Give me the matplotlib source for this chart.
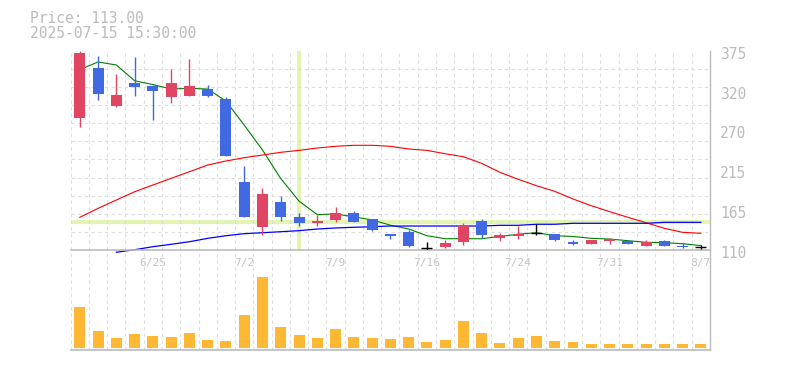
import matplotlib
matplotlib.use("Agg")
import matplotlib.pyplot as plt
import matplotlib.transforms as mtransforms
import numpy as np

plt.rcParams['font.family'] = ['DejaVu Sans Mono']

# trading days 6/19 .. 8/7 (7/21 holiday)
dates = ['6/19', '6/20', '6/23', '6/24', '6/25', '6/26', '6/27', '6/30', '7/1', '7/2',
         '7/3', '7/4', '7/7', '7/8', '7/9', '7/10', '7/11', '7/14', '7/15', '7/16',
         '7/17', '7/18', '7/22', '7/23', '7/24', '7/25', '7/28', '7/29', '7/30', '7/31',
         '8/1', '8/4', '8/5', '8/6', '8/7']

opens = [286, 352, 301, 332, 328, 314, 315, 324, 311, 200, 140, 174, 154, 146, 150, 159, 151, 131,
         134, 113, 114, 120, 149, 126, 129, 133, 131, 120, 118, 122, 122, 115, 122, 115, 114]
highs = [375, 368, 344, 367, 330, 351, 364, 329, 313, 222, 192, 182, 159, 157, 167, 162, 151, 131,
         136, 121, 123, 146, 151, 133, 142, 145, 131, 123, 123, 126, 123, 123, 123, 119, 117]
lows = [274, 309, 300, 315, 283, 306, 315, 314, 235, 154, 130, 149, 142, 142, 147, 147, 135, 125,
        114, 109, 113, 116, 126, 122, 125, 130, 122, 117, 118, 118, 118, 115, 115, 113, 111]
closes = [372, 317, 316, 327, 321, 332, 328, 315, 235, 154, 185, 154, 146, 149, 159, 147, 137, 128,
          115, 113, 119, 143, 130, 130, 131, 133, 123, 118, 123, 124, 118, 120, 115, 114, 114]

# volume, thousand shares
volume = [410, 170, 100, 140, 120, 110, 150, 80, 70, 330, 710, 210, 130, 100, 190, 110, 100, 90,
          110, 60, 80, 270, 150, 50, 100, 120, 70, 60, 40, 40, 40, 40, 40, 40, 40]

ma_short = [350, 360, 356, 335, 330, 324, 325, 324, 308, 276, 243, 205, 175, 157, 158, 154, 150, 143,
            138, 129, 125, 125, 125, 128, 131, 133, 129, 128, 125.5, 124.6, 122.4, 120.2, 119.8, 118.4, 115.8]
ma_mid = [153.5, 165.4, 176.5, 187.5, 196.4, 205.3, 214.1, 223, 228.3, 232.8, 236.3, 239.9, 242.5,
          245.6, 247.9, 249.2, 249.2, 247.9, 244.3, 242.5, 238, 234, 225.2, 213.3, 204, 195.5, 188,
          177.8, 168.9, 161, 153.5, 146.3, 138.8, 133.5, 132.2]
ma_long = [np.nan, np.nan, 107, 110.4, 114.4, 117.6, 121, 125.5, 129, 131.7, 133, 134.3, 135.7, 137.9,
           139.3, 140.2, 141, 141.9, 141.9, 141.9, 141.9, 141.9, 141.9, 142.8, 142.8, 144.2, 144.2,
           145.5, 145.5, 145.5, 145.5, 145.5, 146.8, 146.8, 146.8]

y_labels = ['110', '165', '215', '270', '320', '375']
cross_idx = 12
cross_price = 147.5
info_price = 'Price: 113.00'
info_time = '2025-07-15 15:30:00'

UP = '#e04563'
DOWN = '#4169e1'
GRID = '#dddddd'
AXC = '#bbbbbb'
TXT = '#bbbbbb'

W, H = 785, 370
def box(x0, y0, x1, y1):
    return [x0 / W, 1 - y1 / H, (x1 - x0) / W, (y1 - y0) / H]

fig = plt.figure(figsize=(W / 100, H / 100), dpi=100)
ax = fig.add_axes(box(70.7, 50.7, 710, 250))
axv = fig.add_axes(box(70.7, 250, 710, 350), sharex=ax)
axv.patch.set_visible(False)

x = np.arange(len(dates))
o = np.array(opens, float)
c = np.array(closes, float)
hi = np.array(highs, float)
lo = np.array(lows, float)
up = c > o
dn = c < o
dj = c == o

ax.set_xlim(-0.5, len(dates) - 0.5)
ax.set_ylim(110, 375)

# grid
ax.set_xticks(np.arange(-0.5, len(dates), 1), minor=True)
ax.set_yticks(np.linspace(110, 375, 12), minor=True)
ax.grid(which='minor', color=GRID, ls=(0, (3, 3)), lw=0.8)
ax.grid(which='major', visible=False)
axv.grid(which='minor', axis='x', color=GRID, ls=(0, (3, 3)), lw=0.8)

# crosshair
ax.axvline(cross_idx, ymin=0.01, ymax=1, color='#e4f4b2', lw=3, zorder=1.5)
ax.axhline(cross_price, color='#e4f4b2', lw=3, zorder=1.5)

# moving averages
ax.plot(x, ma_short, color='#008000', lw=0.8, zorder=2)
ax.plot(x, ma_mid, color='#ff0000', lw=0.8, zorder=2)
ax.plot(x, ma_long, color='#0000ff', lw=0.9, zorder=2, clip_on=False)

# candles
wick_col = np.where(up, UP, np.where(dn, DOWN, 'black'))
ax.vlines(x, lo, hi, colors=wick_col, lw=1.0, zorder=3)
ax.bar(x[up], (c - o)[up], bottom=o[up], width=0.6, color=UP, zorder=4)
ax.bar(x[dn], (o - c)[dn], bottom=c[dn], width=0.6, color=DOWN, zorder=4)
ax.hlines(c[dj], x[dj] - 0.3, x[dj] + 0.3, colors='black', lw=1.0, zorder=4)

# axes styling
ax.yaxis.tick_right()
ax.set_yticks(np.linspace(110, 375, 6), y_labels)
ax.set_xticks(x[4::5], [dates[i] for i in x[4::5]])
ax.tick_params(which='both', length=0)
ax.tick_params(axis='y', pad=7, labelsize=10.5, labelcolor=TXT)
ax.tick_params(axis='x', pad=6, labelsize=8, labelcolor='#c4c4c4')
shift = mtransforms.ScaledTranslation(0, -2 / 100, fig.dpi_scale_trans)
for lbl in ax.get_yticklabels():
    lbl.set_transform(lbl.get_transform() + shift)
for s in ['left', 'top']:
    ax.spines[s].set_visible(False)
    axv.spines[s].set_visible(False)
for a in (ax, axv):
    a.spines['right'].set_color(AXC)
    a.spines['bottom'].set_color(AXC)
    a.spines['right'].set_linewidth(1.0)
    a.spines['bottom'].set_linewidth(1.2)

# volume
axv.bar(x, volume, width=0.6, color='#ffb833', zorder=3)
axv.set_ylim(-20, 980)
axv.set_yticks([])
axv.tick_params(which='both', length=0, labelbottom=False)

fig.text(30 / W, 1 - 22.7 / H, info_price, ha='left', va='baseline', fontsize=10.5, color=TXT)
fig.text(30 / W, 1 - 37.7 / H, info_time, ha='left', va='baseline', fontsize=10.5, color=TXT)

fig.savefig('out.png', dpi=100)
